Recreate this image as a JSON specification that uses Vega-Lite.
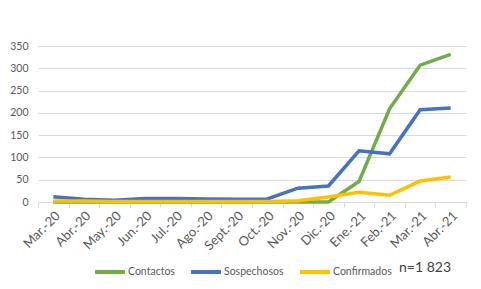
{
  "$schema": "https://vega.github.io/schema/vega-lite/v6.json",
  "width": 428,
  "height": 156,
  "autosize": {"type": "none"},
  "padding": {"left": 38, "top": 46, "right": 15, "bottom": 87},
  "background": "white",
  "config": {
    "view": {"stroke": null},
    "font": "Lato",
    "axis": {"labelFont": "Lato", "labelColor": "#595959", "labelFontSize": 10.5}
  },
  "data": {
    "values": [
      {"mes": "Mar.-20", "serie": "Contactos", "valor": 0},
      {"mes": "Abr.-20", "serie": "Contactos", "valor": 0},
      {"mes": "May.-20", "serie": "Contactos", "valor": 0},
      {"mes": "Jun.-20", "serie": "Contactos", "valor": 0},
      {"mes": "Jul.-20", "serie": "Contactos", "valor": 0},
      {"mes": "Ago.-20", "serie": "Contactos", "valor": 0},
      {"mes": "Sept.-20", "serie": "Contactos", "valor": 0},
      {"mes": "Oct.-20", "serie": "Contactos", "valor": 0},
      {"mes": "Nov.-20", "serie": "Contactos", "valor": 0},
      {"mes": "Dic.-20", "serie": "Contactos", "valor": 0},
      {"mes": "Ene.-21", "serie": "Contactos", "valor": 46},
      {"mes": "Feb.-21", "serie": "Contactos", "valor": 209},
      {"mes": "Mar.-21", "serie": "Contactos", "valor": 307},
      {"mes": "Abr.-21", "serie": "Contactos", "valor": 331},
      {"mes": "Mar.-20", "serie": "Sospechosos", "valor": 12},
      {"mes": "Abr.-20", "serie": "Sospechosos", "valor": 6},
      {"mes": "May.-20", "serie": "Sospechosos", "valor": 4},
      {"mes": "Jun.-20", "serie": "Sospechosos", "valor": 8},
      {"mes": "Jul.-20", "serie": "Sospechosos", "valor": 8},
      {"mes": "Ago.-20", "serie": "Sospechosos", "valor": 7},
      {"mes": "Sept.-20", "serie": "Sospechosos", "valor": 6},
      {"mes": "Oct.-20", "serie": "Sospechosos", "valor": 7},
      {"mes": "Nov.-20", "serie": "Sospechosos", "valor": 31},
      {"mes": "Dic.-20", "serie": "Sospechosos", "valor": 36},
      {"mes": "Ene.-21", "serie": "Sospechosos", "valor": 115},
      {"mes": "Feb.-21", "serie": "Sospechosos", "valor": 108},
      {"mes": "Mar.-21", "serie": "Sospechosos", "valor": 207},
      {"mes": "Abr.-21", "serie": "Sospechosos", "valor": 211},
      {"mes": "Mar.-20", "serie": "Confirmados", "valor": 2},
      {"mes": "Abr.-20", "serie": "Confirmados", "valor": 2},
      {"mes": "May.-20", "serie": "Confirmados", "valor": 1},
      {"mes": "Jun.-20", "serie": "Confirmados", "valor": 1},
      {"mes": "Jul.-20", "serie": "Confirmados", "valor": 1},
      {"mes": "Ago.-20", "serie": "Confirmados", "valor": 1},
      {"mes": "Sept.-20", "serie": "Confirmados", "valor": 1},
      {"mes": "Oct.-20", "serie": "Confirmados", "valor": 1},
      {"mes": "Nov.-20", "serie": "Confirmados", "valor": 3},
      {"mes": "Dic.-20", "serie": "Confirmados", "valor": 11},
      {"mes": "Ene.-21", "serie": "Confirmados", "valor": 22},
      {"mes": "Feb.-21", "serie": "Confirmados", "valor": 15},
      {"mes": "Mar.-21", "serie": "Confirmados", "valor": 47},
      {"mes": "Abr.-21", "serie": "Confirmados", "valor": 56}
    ]
  },
  "mark": {"type": "line", "strokeWidth": 3.5, "strokeCap": "butt", "strokeJoin": "miter"},
  "encoding": {
    "x": {
      "field": "mes", "type": "nominal",
      "sort": ["Mar.-20","Abr.-20","May.-20","Jun.-20","Jul.-20","Ago.-20","Sept.-20","Oct.-20","Nov.-20","Dic.-20","Ene.-21","Feb.-21","Mar.-21","Abr.-21"],
      "scale": {"type": "band", "paddingInner": 0, "paddingOuter": 0},
      "axis": {
        "title": null, "labelAngle": -45, "grid": false,
        "domainColor": "#D9D9D9", "tickColor": "#D9D9D9", "tickSize": 5,
        "tickBand": "extent", "labelPadding": 2, "labelFontSize": 13
      }
    },
    "y": {
      "field": "valor", "type": "quantitative",
      "scale": {"domain": [0, 350], "nice": false},
      "axis": {
        "title": null, "values": [0,50,100,150,200,250,300,350],
        "domain": false, "ticks": false, "gridColor": "#D9D9D9",
        "labelPadding": 10
      }
    },
    "color": {
      "field": "serie", "type": "nominal",
      "sort": ["Contactos", "Sospechosos", "Confirmados"],
      "scale": {"domain": ["Contactos", "Sospechosos", "Confirmados"], "range": ["#70AD47", "#4472C4", "#FFC000"]},
      "legend": {
        "title": "n=1 823", "titleOrient": "right", "titleFontSize": 14,
        "titleFontWeight": "normal", "titleColor": "#404040", "titleFont": "Lato",
        "titlePadding": 7, "titleBaseline": "middle",
        "orient": "none", "legendX": 55, "legendY": 209, "direction": "horizontal",
        "symbolType": "stroke", "symbolSize": 900, "symbolStrokeWidth": 4,
        "labelFontSize": 10.5, "labelColor": "#595959", "labelFont": "Lato",
        "labelOffset": 1, "columnPadding": 8
      }
    },
    "order": {"value": 0}
  }
}
